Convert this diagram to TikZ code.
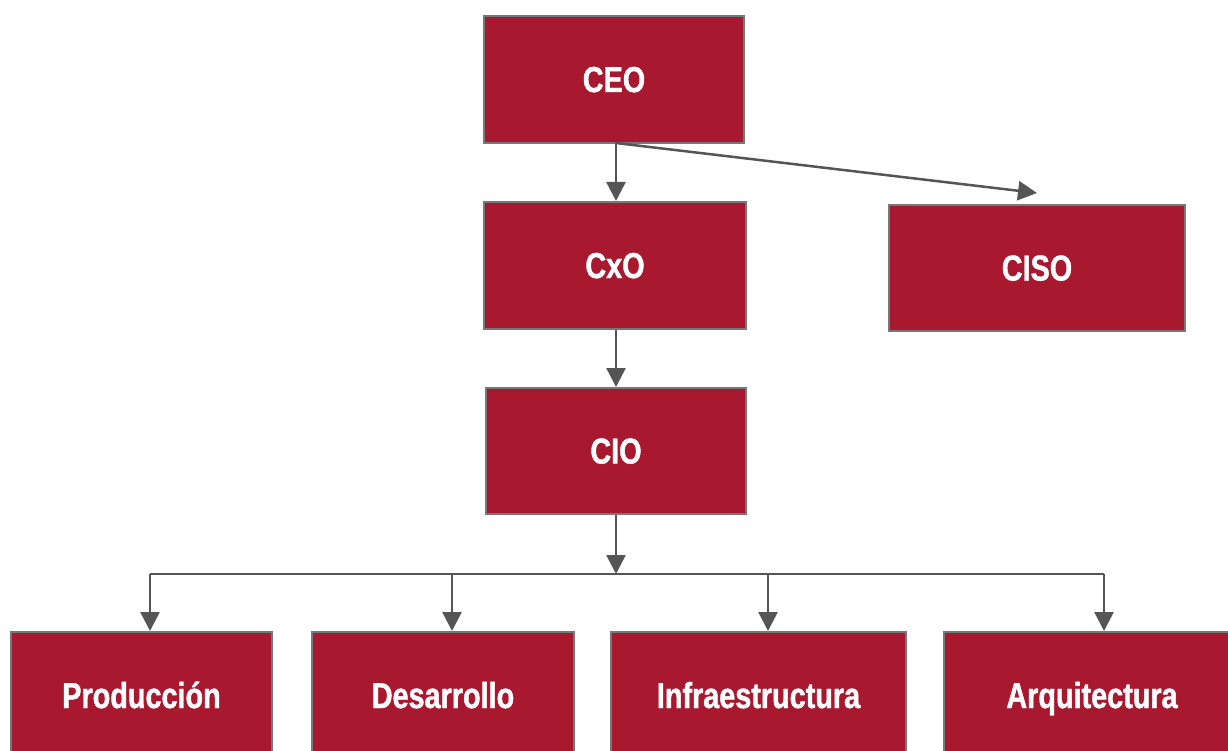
\documentclass[tikz,border=0pt]{standalone}
\usepackage{fontspec}
\setmainfont{Liberation Sans}[FakeStretch=0.8,BoldFeatures={FakeStretch=0.8,FakeBold=1.2}]
\usetikzlibrary{arrows.meta}
\definecolor{boxred}{RGB}{168,25,47}
\definecolor{boxedge}{RGB}{120,120,120}
\definecolor{linegray}{RGB}{85,85,85}
\begin{document}
\begin{tikzpicture}[x=1pt,y=-1pt,
  orgbox/.style={rectangle,fill=boxred,draw=boxedge,line width=2pt,inner sep=0pt,
    text=white,text height=25pt,text depth=0pt,font=\fontsize{36}{42}\selectfont\bfseries},
  conn/.style={draw=linegray,line width=2.5pt,-{Triangle[length=19pt,width=19pt]}},
  plain/.style={draw=linegray,line width=2.5pt}]
\useasboundingbox (0,0) rectangle (1228,751);
\clip (0,0) rectangle (1228,751);
\node[orgbox,minimum width=260pt,minimum height=127pt] (ceo) at (614,79.5) {CEO};
\node[orgbox,minimum width=262pt,minimum height=127pt] (cxo) at (615,265.5) {CxO};
\node[orgbox,minimum width=296pt,minimum height=126pt] (ciso) at (1037,268) {CISO};
\node[orgbox,minimum width=260pt,minimum height=126pt] (cio) at (616,451) {CIO};
\node[orgbox,minimum width=261pt,minimum height=127pt] (prod) at (141.5,695.5) {Producción};
\node[orgbox,minimum width=262pt,minimum height=127pt] (des) at (443,695.5) {Desarrollo};
\node[orgbox,minimum width=295pt,minimum height=127pt] (inf) at (758.5,695.5) {Infraestructura};
\node[orgbox,minimum width=296pt,minimum height=127pt] (arq) at (1092,695.5) {Arquitectura};
\coordinate (ceoout) at (616,143);
\coordinate (cisoin) at (1037,193);
\coordinate (bus) at (616,574);
\coordinate (b1) at (150,574);
\coordinate (b2) at (452,574);
\coordinate (b3) at (768,574);
\coordinate (b4) at (1104,574);
\draw[conn] (ceoout) -- (ceoout |- cxo.north);
\draw[conn] (ceoout) -- (cisoin);
\draw[conn] (cxo.south -| cio.south) -- (cio.north);
\draw[conn] (cio.south) -- (bus);
\draw[plain] (b1) -- (b4);
\draw[conn] (b1) -- (b1 |- prod.north);
\draw[conn] (b2) -- (b2 |- des.north);
\draw[conn] (b3) -- (b3 |- inf.north);
\draw[conn] (b4) -- (b4 |- arq.north);
\end{tikzpicture}
\end{document}
